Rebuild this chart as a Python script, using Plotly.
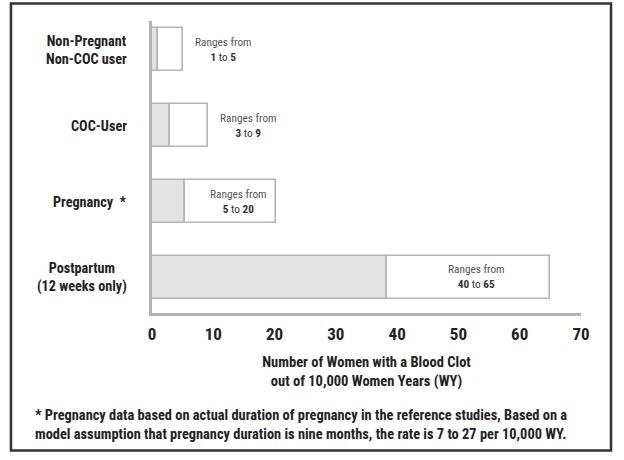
import plotly.graph_objects as go

# ---- data ----
categories = ["Non-Pregnant Non-COC user", "COC-User", "Pregnancy *", "Postpartum (12 weeks only)"]
category_labels = ["Non-Pregnant<br>Non-COC user", "COC-User", "Pregnancy  *", "Postpartum<br>(12 weeks only)"]
low_values = [1.0, 3.0, 5.4, 38.3]
high_values = [5.0, 9.2, 20.2, 65.0]
range_from = [1, 3, 5, 40]
range_to = [5, 9, 20, 65]
x_ticks = [0, 10, 20, 30, 40, 50, 60, 70]

FONT = "Roboto Condensed, Liberation Sans Narrow, DejaVu Sans Condensed, sans-serif"
BAR_LINE = "#b5b5b5"
AXIS_COLOR = "#b3b3b3"

fig = go.Figure()
fig.add_trace(go.Bar(
    y=categories, x=low_values, base=[0] * len(low_values), orientation="h",
    width=0.57, marker=dict(color="#e3e3e3", line=dict(color=BAR_LINE, width=1.6)),
    hoverinfo="skip", showlegend=False,
))
fig.add_trace(go.Bar(
    y=categories, x=[h - l for h, l in zip(high_values, low_values)], base=low_values,
    orientation="h", width=0.57,
    marker=dict(color="#ffffff", line=dict(color=BAR_LINE, width=1.6)),
    hoverinfo="skip", showlegend=False,
))

annotations = []
for c, lab in zip(categories, category_labels):
    annotations.append(dict(
        x=0, xref="paper", y=c, yref="y", xanchor="right", yanchor="middle",
        xshift=-23, text="<b>" + lab + "</b>", showarrow=False, align="center",
        font=dict(family=FONT, size=14.2, color="#222222"),
    ))

for c, lo, hi, r0, r1 in zip(categories, low_values, high_values, range_from, range_to):
    txt = ("<span style='color:#555555'>Ranges from</span><br>"
           f"<b>{r0}</b> to <b>{r1}</b>")
    if hi - lo > 10:
        ax, anchor, shift = (lo + hi) / 2, "center", 8
    else:
        ax, anchor, shift = hi, "left", 10
    annotations.append(dict(
        x=ax, xref="x", y=c, yref="y", xanchor=anchor, yanchor="middle", xshift=shift,
        text=txt, showarrow=False, align="center",
        font=dict(family=FONT, size=11.3, color="#333333"),
    ))

annotations.append(dict(
    x=-0.277, xref="paper", y=-0.382, yref="paper", xanchor="left", yanchor="middle",
    text=("<b>* Pregnancy data based on actual duration of pregnancy in the reference studies, Based on a<br>"
          "model assumption that pregnancy duration is nine months, the rate is 7 to 27 per 10,000 WY.</b>"),
    showarrow=False, align="left", font=dict(family=FONT, size=14.4, color="#222222"),
))

fig.update_layout(
    width=624, height=460, autosize=False,
    margin=dict(l=152, r=43, t=21, b=147),
    paper_bgcolor="white", plot_bgcolor="white",
    barmode="overlay", bargap=0,
    annotations=annotations,
    shapes=[dict(type="rect", xref="paper", yref="paper",
                 x0=-0.3287, x1=1.07, y0=-0.471, y1=1.06,
                 line=dict(color="#333333", width=2.5), fillcolor="rgba(0,0,0,0)", layer="below")],
    xaxis=dict(
        range=[0, 70], tickvals=x_ticks, showgrid=False, zeroline=False,
        showline=True, linecolor=AXIS_COLOR, linewidth=2.5,
        ticks="outside", ticklen=4, tickcolor="rgba(0,0,0,0)",
        tickfont=dict(family=FONT, size=17, color="#222222", weight="bold"),
        title=dict(text="<b>Number of Women with a Blood Clot<br>out of 10,000 Women Years (WY)</b>",
                   font=dict(family=FONT, size=14.5, color="#222222"), standoff=14),
    ),
    yaxis=dict(
        categoryorder="array", categoryarray=categories,
        range=[3.47, -0.38], showticklabels=False, showgrid=False, zeroline=False,
        showline=True, linecolor=AXIS_COLOR, linewidth=2.5, ticks="",
    ),
)

fig.write_html("out.html", config={"displayModeBar": False},
               post_script="document.body.style.margin='0';document.body.style.overflow='hidden';")
